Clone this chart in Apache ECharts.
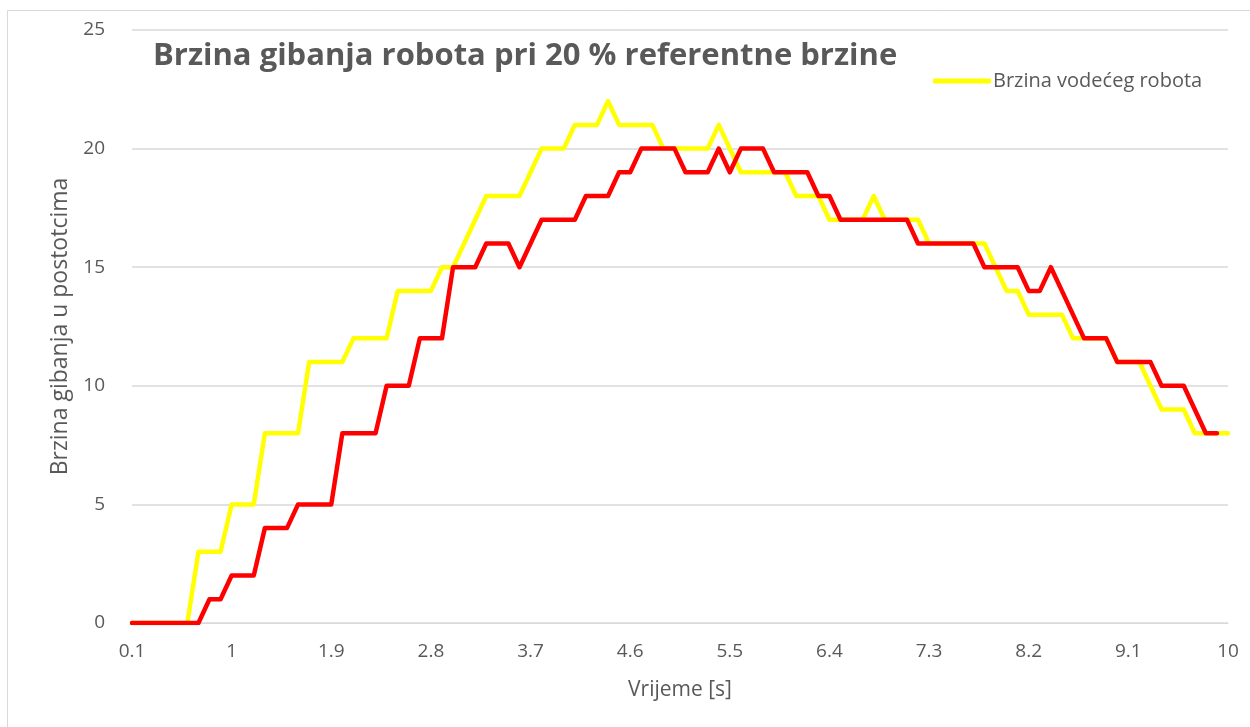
<!DOCTYPE html>
<html>
<head>
<meta charset="utf-8">
<script src="https://cdn.jsdelivr.net/npm/echarts@6/dist/echarts.min.js"></script>
<style>
html,body{margin:0;padding:0;background:#fff;}
#c{width:1250px;height:727px;}
</style>
</head>
<body>
<div id="c"></div>
<script>
// x categories: time in seconds 0.1 .. 10.0
var categories = [];
for (var k = 1; k <= 100; k++) categories.push((k / 10).toFixed(1).replace(/\.0$/, ''));

var titleText = 'Brzina gibanja robota pri 20 % referentne brzine';
var yAxisName = 'Brzina gibanja u postotcima';
var xAxisName = 'Vrijeme [s]';
var leaderName = 'Brzina vodećeg robota';
var followerName = 'Brzina pratećeg robota';

var leaderSpeed = [
  0,0,0,0,0,0, 3,3,3, 5,5,5, 8,8,8,8, 11,11,11,11, 12,12,12,12,
  14,14,14,14, 15,15, 16, 17, 18,18,18,18, 19, 20,20,20, 21,21,21, 22,
  21,21,21,21, 20,20,20,20,20, 21, 20, 19,19,19,19,19, 18,18,18,
  17,17,17,17, 18, 17,17,17,17, 16,16,16,16,16,16, 15, 14,14,
  13,13,13,13, 12,12,12,12, 11,11,11, 10, 9,9,9, 8,8,8,8
];
var followerSpeed = [
  0,0,0,0,0,0,0, 1,1, 2,2,2, 4,4,4, 5,5,5,5, 8,8,8,8, 10,10,10,
  12,12,12, 15,15,15, 16,16,16, 15, 16, 17,17,17,17, 18,18,18, 19,19,
  20,20,20,20, 19,19,19, 20, 19, 20,20,20, 19,19,19,19, 18,18,
  17,17,17,17,17,17,17, 16,16,16,16,16,16, 15,15,15,15, 14,14, 15, 14, 13,
  12,12,12, 11,11,11,11, 10,10,10, 9, 8,8, null
];

var yTicks = [0, 5, 10, 15, 20, 25];

var txt = '#595959';
var font = '"Open Sans", Lato, sans-serif';
var chart = echarts.init(document.getElementById('c'));
chart.setOption({
  animation: false,
  backgroundColor: '#fff',
  graphic: [{
    type: 'rect', shape: {x: 7.5, y: 10.5, width: 1260, height: 740},
    style: {fill: 'none', stroke: '#d9d9d9', lineWidth: 1}, silent: true
  }],
  title: {
    text: titleText, left: 148, top: 36,
    textStyle: {color: txt, fontFamily: font, fontWeight: 'bold', fontSize: 31}
  },
  legend: {
    data: [leaderName], left: 928, top: 66, itemWidth: 58, itemHeight: 5, itemGap: 6,
    icon: 'roundRect',
    itemStyle: {color: '#ffff00'},
    textStyle: {color: txt, fontFamily: font, fontSize: 20, padding: [0,0,0,-3]}
  },
  grid: {left: 132, right: 22, top: 30, bottom: 104, containLabel: false},
  xAxis: {
    type: 'category', data: categories, boundaryGap: false,
    name: xAxisName, nameLocation: 'middle', nameGap: 57,
    nameTextStyle: {color: txt, fontFamily: font, fontSize: 21},
    axisLine: {show: true, lineStyle: {color: '#d9d9d9', width: 1}},
    axisTick: {show: false},
    axisLabel: {interval: 8, color: txt, fontFamily: font, fontSize: 19, margin: 19},
    splitLine: {show: false}
  },
  yAxis: {
    type: 'value', min: yTicks[0], max: yTicks[yTicks.length - 1], interval: 5,
    name: yAxisName, nameLocation: 'middle', nameGap: 58,
    nameTextStyle: {color: txt, fontFamily: font, fontSize: 23},
    axisLine: {show: false}, axisTick: {show: false},
    axisLabel: {color: txt, fontFamily: font, fontSize: 19, margin: 27},
    splitLine: {lineStyle: {color: '#d9d9d9', width: 1.5}}
  },
  series: [
    {
      name: leaderName, type: 'line', data: leaderSpeed, showSymbol: false,
      lineStyle: {color: '#ffff00', width: 4.5, cap: 'round', join: 'round'},
      itemStyle: {color: '#ffff00'}, z: 2
    },
    {
      name: followerName, type: 'line', data: followerSpeed, showSymbol: false,
      lineStyle: {color: '#ff0000', width: 4.5, cap: 'round', join: 'round'},
      itemStyle: {color: '#ff0000'}, z: 3
    }
  ]
});
</script>
</body>
</html>
